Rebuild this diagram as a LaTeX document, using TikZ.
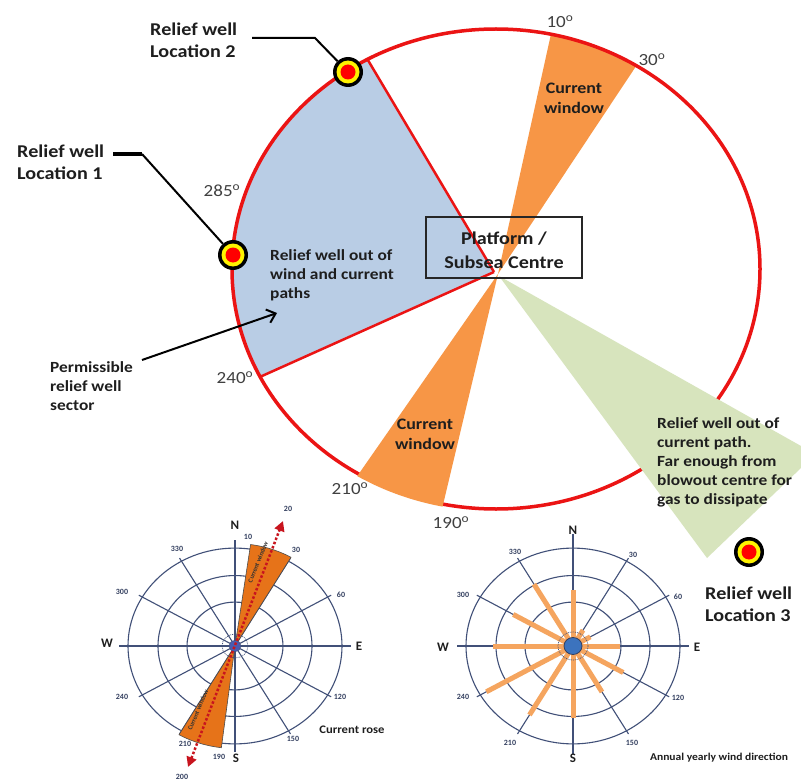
\documentclass[tikz,border=0pt]{standalone}
\usepackage{fontspec}
\setmainfont{Carlito}
\usetikzlibrary{arrows.meta}
\definecolor{sectblue}{RGB}{185,205,229}
\definecolor{winorange}{RGB}{247,150,70}
\definecolor{sectgreen}{RGB}{215,228,189}
\definecolor{ringred}{RGB}{235,20,20}
\definecolor{txt}{RGB}{30,30,30}
\definecolor{rosecol}{RGB}{65,80,120}
\definecolor{roseorange}{RGB}{230,115,25}
\definecolor{windorange}{RGB}{245,165,95}
\definecolor{arrowred}{RGB}{200,20,30}
\definecolor{dotblue}{RGB}{60,115,190}
\begin{document}
\begin{tikzpicture}[x=1pt,y=-1pt,
  lbl/.style={font=\fontsize{15.5}{19}\selectfont\bfseries, text=txt, align=left, inner sep=0pt, xscale=1.12},
  bigl/.style={lbl, font=\fontsize{18}{22}\selectfont\bfseries},
  winlbl/.style={lbl, align=center, font=\fontsize{16}{20}\selectfont\bfseries},
  deg/.style={font=\fontsize{17}{20}\selectfont, text=txt!85, inner sep=0pt, xscale=1.12},
  rosenum/.style={font=\fontsize{8}{9}\selectfont\bfseries, text=rosecol!80!black, inner sep=0pt},
  compass/.style={font=\fontsize{13}{14}\selectfont\bfseries, text=txt, inner sep=0pt},
  roseline/.style={draw=rosecol, line width=1.1pt},
  well/.style={circle, fill=black, minimum size=30pt, inner sep=0pt,
    path picture={\fill[yellow] (path picture bounding box.center) circle (11.5pt);
                  \fill[red] (path picture bounding box.center) circle (7.5pt);}},
  leader/.style={draw=black, line width=2pt},
]
\useasboundingbox (0,0) rectangle (801,781);
\fill[white] (0,0) rectangle (801,781);

% ---------- main diagram ----------
\coordinate (B) at (494,272);
\coordinate (O) at (498,274);
\coordinate (G) at (499,276);

\begin{scope}
  \clip (496,269) ellipse [x radius=264pt, y radius=240pt];
  \fill[sectblue] (B) -- (306,-44) -- (100,-44) -- (100,428) -- (146,428) -- cycle;
  \fill[winorange] (O) -- (566,-34) -- (676,6) -- cycle;
  \draw[ringred, line width=2.5pt] (B) -- (306,-44);
  \draw[ringred, line width=2.5pt] (B) -- (146,428);
\end{scope}

\draw[ringred, line width=3.5pt] (496,269) ellipse [x radius=264pt, y radius=240pt];

\begin{scope}
  \clip (496,269) ellipse [x radius=266.5pt, y radius=242.5pt];
  \fill[winorange] (O) -- (319,531) -- (427,572) -- cycle;
\end{scope}

\fill[sectgreen] (G) -- (801,446) -- (801,468) -- (707,558) -- cycle;

\node[draw=black!85, line width=1.2pt, minimum width=156pt, minimum height=61pt, inner sep=0pt] (box) at (504,247.5) {};
\node[font=\fontsize{18}{24}\selectfont\bfseries, text=txt, align=center, inner sep=0pt, xscale=1.12] (boxtxt) at (504,250) {Platform /\\Subsea Centre};

\node[winlbl] (cw1) at (574,98) {Current\\window};
\node[winlbl] (cw2) at (425,434) {Current\\window};

\node[lbl, anchor=north west] (outwind) at (270,249) {Relief well out of\\wind and current\\paths};
\node[lbl, anchor=north west] (perm) at (50,361) {Permissible\\relief well\\sector};
\node[lbl, anchor=north west] (outcur) at (657,417) {Relief well out of\\current path.\\Far enough from\\blowout centre for\\gas to dissipate};

\node[bigl, anchor=north west] (lab2) at (150,23) {Relief well\\Location 2};
\node[bigl, anchor=north west] (lab1) at (17,145) {Relief well\\Location 1};
\node[bigl, anchor=north west] (lab3) at (705,587) {Relief well\\Location 3};

\node[deg] (d285) at (222,191) {285\textsuperscript{o}};
\node[deg] (d10) at (560,22) {10\textsuperscript{o}};
\node[deg] (d30) at (652,60) {30\textsuperscript{o}};
\node[deg] (d240) at (235,378) {240\textsuperscript{o}};
\node[deg] (d210) at (350,489) {210\textsuperscript{o}};
\node[deg] (d190) at (451,523) {190\textsuperscript{o}};

\node[well] (w1) at (233,255) {};
\node[well] (w2) at (348,72) {};
\node[well] (w3) at (749,552) {};

\coordinate (l2a) at (252,38);
\coordinate (l2b) at (315,38);
\draw[leader] (l2a) -- (l2b) -- (w2);
\coordinate (l1a) at (113,154);
\coordinate (l1b) at (142,154);
\draw[draw=black, line width=3.5pt] (l1a) -- (l1b);
\draw[leader] (l1b) -- (w1);

\coordinate (pa) at (142,360);
\coordinate (pb) at (277,313);
\draw[leader, -{Straight Barb[length=8pt,width=14pt]}] (pa) -- (pb);

% ---------- current rose ----------
\begin{scope}[shift={(235,646)}]
  \foreach \r in {48,77,107}{
    \pgfmathsetmacro\ry{0.915*\r}
    \draw[roseline] (0,0) ellipse [x radius=\r pt, y radius=\ry pt];
  }
  \foreach \a in {30,60,120,150,210,240,300,330}
    \draw[roseline] (0,0) -- ({111*sin(\a)},{-0.915*111*cos(\a)});
  \draw[roseline] (-116,0) -- (116,0);
  \draw[roseline] (0,-106) -- (0,106);
  \filldraw[fill=roseorange, draw=black!70, line width=0.6pt] (0,0) -- plot[domain=8:30, samples=8] ({112*sin(\x)},{-0.915*112*cos(\x)}) -- cycle;
  \filldraw[fill=roseorange, draw=black!70, line width=0.6pt] (0,0) -- plot[domain=187:210, samples=8] ({112*sin(\x)},{-0.915*112*cos(\x)}) -- cycle;
  \draw[rosecol, line width=0.8pt, densely dotted] (0,0) ellipse [x radius=13pt, y radius=12pt];
  \filldraw[fill=dotblue!80!violet, draw=rosecol] (0,0) ellipse [x radius=6pt, y radius=5.5pt];
\end{scope}
\coordinate (cra) at (188,767);
\coordinate (crb) at (283,521);
\draw[arrowred, line width=2.5pt, dash pattern=on 2.5pt off 2pt, {Triangle[length=10pt,width=10pt]}-{Triangle[length=10pt,width=10pt]}] (cra) -- (crb);
\node[rotate=68, font=\fontsize{6.5}{7}\selectfont\bfseries, text=black!80, inner sep=0pt] (cwt1) at (258,562) {Current window};
\node[rotate=67, font=\fontsize{6.5}{7}\selectfont\bfseries, text=black!80, inner sep=0pt] (cwt2) at (198,710) {Current window};

\node[compass] (cN) at (235,525) {N};
\node[compass] (cS) at (236,758) {S};
\node[compass] (cE) at (359,646) {E};
\node[compass] (cW) at (107,643) {W};
\node[rosenum] (c10) at (248,537) {10};
\node[rosenum] (c30) at (296,550) {30};
\node[rosenum] (c60) at (341,595) {60};
\node[rosenum] (c120) at (340,697) {120};
\node[rosenum] (c150) at (293,739) {150};
\node[rosenum] (c190) at (219,757) {190};
\node[rosenum] (c210) at (185,744) {210};
\node[rosenum] (c240) at (122,697) {240};
\node[rosenum] (c300) at (122,592) {300};
\node[rosenum] (c330) at (177,549) {330};
\node[rosenum] (c20) at (288,509) {20};
\node[rosenum] (c200) at (182,777) {200};
\node[font=\fontsize{11.5}{13}\selectfont\bfseries, text=txt, inner sep=0pt, xscale=1.1] (crose) at (352,730) {Current rose};

% ---------- wind rose ----------
\begin{scope}[shift={(573,646)}]
  \foreach \r in {48,77,107}{
    \pgfmathsetmacro\ry{0.915*\r}
    \draw[roseline] (0,0) ellipse [x radius=\r pt, y radius=\ry pt];
  }
  \foreach \a in {30,60,120,150,210,240,300,330}
    \draw[roseline] (0,0) -- ({111*sin(\a)},{-0.915*111*cos(\a)});
  \draw[roseline] (-116,0) -- (116,0);
  \draw[roseline] (0,-112) -- (0,108);
  \foreach \a/\l in {0/61,30/20,60/20,90/47,120/58,150/58,180/79,210/87,240/100,270/80,300/69,330/78}
    \draw[windorange, line width=5pt] (0,0) -- ({\l*sin(\a)},{-0.915*\l*cos(\a)});
  \draw[rosecol, line width=0.8pt, densely dotted] (0,0) ellipse [x radius=15pt, y radius=14pt];
  \filldraw[fill=dotblue, draw=rosecol!80!black, line width=0.8pt] (0,0) ellipse [x radius=9pt, y radius=8.5pt];
\end{scope}
\node[compass] (wN) at (573,530) {N};
\node[compass] (wS) at (573,758) {S};
\node[compass] (wE) at (697,647) {E};
\node[compass] (wW) at (443,647) {W};
\node[rosenum] (w30) at (633,555) {30};
\node[rosenum] (w60) at (678,597) {60};
\node[rosenum] (w120) at (678,698) {120};
\node[rosenum] (w150) at (632,743) {150};
\node[rosenum] (w210) at (510,743) {210};
\node[rosenum] (w240) at (463,697) {240};
\node[rosenum] (w300) at (463,595) {300};
\node[rosenum] (w330) at (515,552) {330};
\node[font=\fontsize{10.5}{12}\selectfont\bfseries, text=txt, inner sep=0pt, xscale=1.1] (wrose) at (719,758) {Annual yearly wind direction};
\end{tikzpicture}
\end{document}
